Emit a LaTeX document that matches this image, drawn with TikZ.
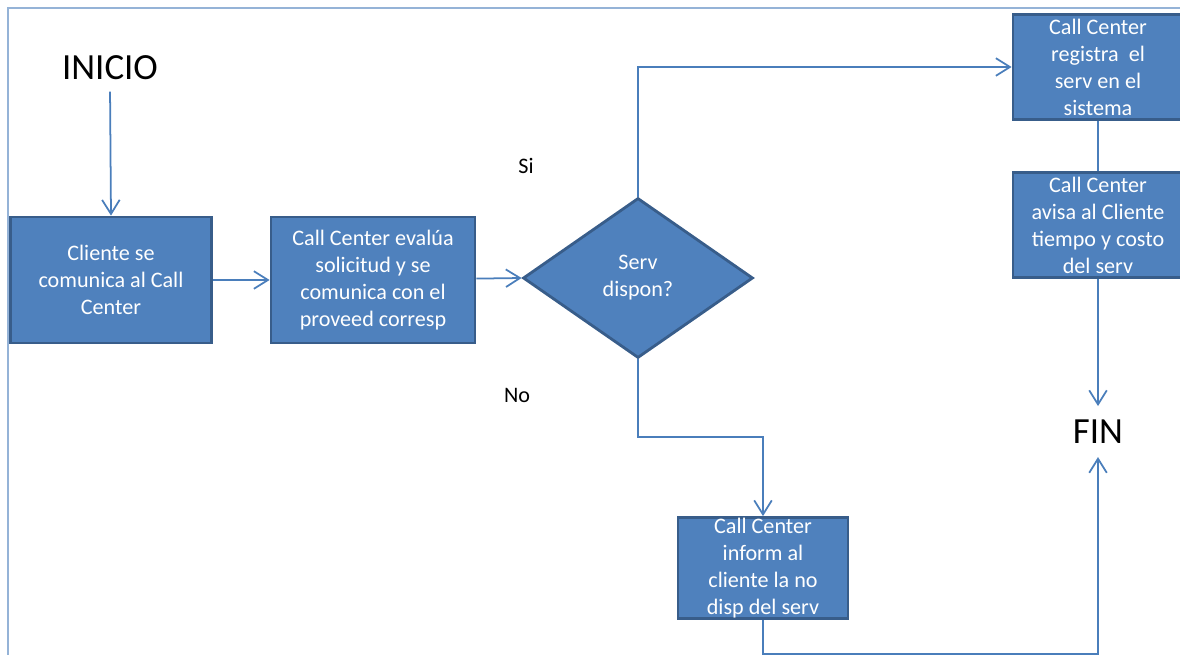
\documentclass[tikz,border=0pt]{standalone}
\usepackage{fontspec}
\setmainfont{Carlito}
\usetikzlibrary{shapes.geometric,arrows.meta}
\definecolor{boxblue}{HTML}{4F81BD}
\definecolor{boxedge}{HTML}{385D8A}
\definecolor{linkblue}{HTML}{4A7EBB}
\definecolor{frameblue}{HTML}{95B3D7}

\begin{document}
\begin{tikzpicture}[x=0.02cm,y=-0.02cm,
  proc/.style={draw=boxedge,fill=boxblue,line width=1.6pt,text=white,align=center,
    inner sep=0pt,font=\fontsize{12.6}{15.4}\selectfont},
  decide/.style={diamond,draw=boxedge,fill=boxblue,line width=1.6pt,text=white,align=center,
    inner sep=0pt,aspect=1.44,minimum width=4.6cm,minimum height=3.2cm,
    font=\fontsize{12.6}{15.4}\selectfont},
  term/.style={font=\fontsize{21}{25}\selectfont},
  lbl/.style={font=\fontsize{12.6}{15}\selectfont},
  link/.style={draw=linkblue,line width=1pt},
  arr/.style={link,-{Straight Barb[length=8pt,width=10pt]}}]
\useasboundingbox (0,0) rectangle (1180,655);

%frame
\draw[frameblue,line width=1.2pt] (8,655) -- (8,8) -- (1180,8);

%start and end
\node[term] (inicio) at (110,68) {INICIO};
\node[term] (fin) at (1098,432) {FIN};

%boxes
\node[proc,minimum width=4.02cm,minimum height=2.52cm] (cliente) at (111,280)
  {Cliente se\\comunica al Call\\Center};
\node[proc,minimum width=4.08cm,minimum height=2.52cm] (evalua) at (373,280)
  {Call Center evalúa\\solicitud y se\\comunica con el\\proveed corresp};
\node[decide] (dispon) at (638,278) {Serv\\dispon?};
\node[proc,minimum width=3.4cm,minimum height=2.1cm] (registra) at (1098,67)
  {Call Center\\registra~~el\\serv en el\\sistema};
\node[proc,minimum width=3.4cm,minimum height=2.1cm] (avisa) at (1098,225)
  {Call Center\\avisa al Cliente\\tiempo y costo\\del serv};
\node[proc,minimum width=3.4cm,minimum height=2.02cm] (informa) at (763,568)
  {Call Center\\inform al\\cliente la no\\disp del serv};

%branch labels
\node[lbl] (si) at (526,166) {Si};
\node[lbl] (no) at (517,395) {No};

\coordinate (quiebre) at (763,437);
\coordinate (bajo) at (1098,654);

%links
\draw[arr,shorten <=3pt] (inicio.south) -- (cliente.north);
\draw[arr] (cliente) -- (evalua);
\draw[arr] (evalua) -- (dispon.west);
\draw[arr] (dispon.north) |- (registra.west);
\draw[link] (registra) -- (avisa);
\draw[arr,shorten >=4.5pt] (avisa.south) -- (fin.north);
\draw[arr] (dispon.south) |- (quiebre) -- (informa.north);
\draw[arr,shorten >=4pt] (informa.south) |- (bajo) -- (fin.south);
\end{tikzpicture}
\end{document}
